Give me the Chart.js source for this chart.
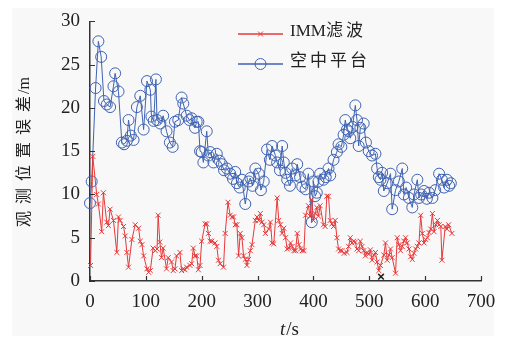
<!DOCTYPE html>
<html>
<head>
<meta charset="utf-8">
<script src="https://cdn.jsdelivr.net/npm/chart.js@4/dist/chart.umd.min.js"></script>
<style>
html,body{margin:0;padding:0;background:#fff;}
#wrap{width:508px;height:342px;}
</style>
</head>
<body>
<div id="wrap"><canvas id="c" width="508" height="342"></canvas></div>
<script>
// ---- data ----
const seriesNames = ['IMM滤波', '空中平台'];
const xTitleItalic = 't';
const xTitleRest = '/s';
const yTitle = '观测位置误差/m';
const xTicks = [0, 100, 200, 300, 400, 500, 600, 700];
const yTicks = [0, 5, 10, 15, 20, 25, 30];

const immT = [1,5,12,15,21,24,30,33,36,42,48,51,54,60,63,66,69,75,81,87,90,93,96,102,105,108,113,117,120,122,125,128,131,137,140,146,149,152,155,161,164,167,170,173,179,182,185,188,191,194,197,200,206,209,212,215,218,224,227,230,233,239,242,247,251,254,257,260,263,266,269,272,275,278,281,284,287,290,296,299,302,305,308,311,314,320,323,326,329,335,338,341,344,347,350,353,356,359,362,365,368,371,374,377,380,383,386,391,394,397,400,403,406,409,412,418,421,424,427,430,433,436,439,442,445,448,451,455,460,463,466,469,472,475,478,481,484,487,490,493,496,499,502,505,508,511,514,517,520,526,529,532,535,538,541,547,550,553,556,559,562,565,568,571,574,577,580,583,586,589,592,595,598,601,604,607,610,613,616,619,622,625,628,630,636,639,642,648];
const immV = [1.8,14.4,10.0,8.9,5.7,10.2,6.8,6.4,8.3,7.0,3.3,7.4,7.0,6.3,5.2,3.3,1.6,4.8,6.5,6.1,4.6,4.2,2.9,1.4,1.0,1.2,3.8,3.5,3.7,7.6,4.5,2.7,3.8,1.4,2.7,2.2,1.2,1.4,2.9,3.3,1.2,1.4,1.3,1.6,1.8,2.0,3.8,2.9,2.9,1.3,1.8,4.6,6.6,6.6,5.5,4.6,4.6,4.4,4.0,2.4,2.0,1.6,5.5,9.1,7.6,7.4,7.4,6.5,6.5,2.9,5.5,5.0,2.9,2.5,1.8,2.5,3.5,4.2,7.0,7.4,7.0,7.8,6.8,6.5,5.5,6.0,6.8,4.4,4.3,9.6,7.0,6.5,5.5,6.1,5.0,3.7,3.8,4.4,4.0,3.5,3.5,5.5,4.2,3.7,3.5,3.5,7.6,8.7,7.5,9.4,7.0,7.8,8.5,7.5,8.7,6.5,6.3,9.8,9.8,7.0,6.6,6.3,7.0,5.0,3.7,3.5,3.5,3.2,3.3,4.0,5.0,4.4,4.6,4.5,3.7,3.5,4.6,4.0,3.5,2.9,3.3,3.1,3.6,2.4,3.0,3.3,2.2,1.2,1.8,3.0,4.4,2.4,3.0,3.7,2.7,0.9,5.0,4.2,3.5,4.0,4.6,5.0,4.4,3.7,2.8,2.5,3.2,3.7,4.0,4.4,7.6,5.5,4.4,4.8,5.0,5.6,6.0,7.8,5.7,6.5,7.0,6.5,6.3,2.4,6.3,6.0,6.5,5.5];

const platT = [0,3,10,15,20,25,30,36,42,45,51,57,61,66,69,73,78,84,90,96,102,108,110,114,118,120,126,131,137,143,148,152,158,164,167,173,178,182,188,191,194,197,200,203,209,212,215,221,227,232,236,240,245,251,256,260,263,268,272,278,284,287,291,296,302,306,311,317,322,326,332,335,340,344,347,350,353,358,362,368,371,376,380,386,391,397,400,403,406,409,412,418,422,427,430,436,442,445,450,454,457,460,463,466,470,475,478,481,484,490,494,499,505,511,514,517,520,523,526,532,538,541,547,553,559,562,566,571,577,580,586,589,593,598,603,607,613,618,625,630,634,639,643,646];
const platV = [9.0,11.5,22.3,27.7,25.9,20.8,20.4,20.1,22.5,24.0,21.9,16.0,15.8,16.2,18.6,16.8,16.3,20.1,21.4,17.5,23.1,22.1,19.0,18.5,23.3,18.6,18.2,19.1,17.3,16.0,15.5,18.4,18.6,21.2,20.5,19.1,18.6,18.8,17.7,18.4,18.4,15.0,14.9,13.7,17.3,14.5,14.9,13.7,14.7,13.9,13.5,12.8,13.0,12.4,11.8,12.6,11.3,10.8,11.7,8.9,11.5,11.9,11.0,13.0,12.4,10.5,11.5,15.2,14.0,15.6,14.5,13.7,12.8,15.6,13.7,12.5,11.7,11.0,13.0,12.2,13.5,12.0,10.9,10.6,12.4,6.8,11.5,9.8,10.2,11.5,12.4,11.7,12.0,13.0,12.2,14.0,14.9,15.8,15.5,16.9,18.6,17.5,17.3,16.5,17.8,20.3,18.6,15.6,17.7,18.2,16.0,15.0,14.5,14.7,13.0,12.0,11.7,12.5,10.4,11.3,12.4,8.3,10.5,11.5,13.0,10.0,10.8,9.6,8.5,10.0,11.7,9.6,10.0,10.4,9.5,10.2,9.6,10.5,12.4,11.7,10.8,11.7,11.0,11.3];

const strayT = [521];
const strayV = [0.5];

const toXY = (ts, vs) => ts.map((t, i) => ({x: t, y: vs[i]}));

const RED = '#e8383a';
const BLUE = '#3f63b4';
const SERIF = "'Liberation Serif', 'Noto Sans CJK SC', serif";

const bgPlugin = {
  id: 'bg',
  beforeDraw(chart) {
    const ctx = chart.ctx;
    ctx.save();
    ctx.fillStyle = '#ffffff';
    ctx.fillRect(0, 0, chart.width, chart.height);
    ctx.fillStyle = '#f8f8f8';
    ctx.fillRect(12, 8, 482, 328);
    ctx.restore();
  }
};

function drawMarker(ctx, style, x, y, r, color) {
  ctx.save();
  ctx.strokeStyle = color;
  ctx.lineWidth = 1;
  ctx.beginPath();
  if (style === 'crossRot') {
    const d = r * 0.7071;
    ctx.moveTo(x - d, y - d); ctx.lineTo(x + d, y + d);
    ctx.moveTo(x + d, y - d); ctx.lineTo(x - d, y + d);
  } else {
    ctx.arc(x, y, r, 0, Math.PI * 2);
  }
  ctx.stroke();
  ctx.restore();
}

// split text into runs: CJK runs get letter spacing (between chars), Latin runs none
function runsOf(text) {
  const runs = [];
  for (const ch of text) {
    const cjk = /[\u3000-\u9fff\uff00-\uffef]/.test(ch);
    if (runs.length && runs[runs.length - 1].cjk === cjk) runs[runs.length - 1].s += ch;
    else runs.push({s: ch, cjk});
  }
  return runs;
}
function runWidth(ctx, r, sp, last) {
  ctx.letterSpacing = r.cjk ? sp + 'px' : '0px';
  let w = ctx.measureText(r.s).width;
  if (r.cjk && !last) w = w - sp + 2; // small gap before following Latin run
  return w;
}
function measureMixed(ctx, text, sp) {
  const runs = runsOf(text);
  let w = 0;
  runs.forEach((r, i) => { w += runWidth(ctx, r, sp, i === runs.length - 1); });
  ctx.letterSpacing = '0px';
  return w;
}
function drawMixed(ctx, text, x, y, sp) {
  const runs = runsOf(text);
  runs.forEach((r, i) => {
    ctx.letterSpacing = r.cjk ? sp + 'px' : '0px';
    ctx.fillText(r.s, x, y);
    x += runWidth(ctx, r, sp, i === runs.length - 1);
  });
  ctx.letterSpacing = '0px';
}

const decoPlugin = {
  id: 'deco',
  afterDraw(chart) {
    const ctx = chart.ctx;
    const xs = chart.scales.x, ys = chart.scales.y;
    const ca = chart.chartArea;
    ctx.save();
    // inward tick marks
    ctx.strokeStyle = '#333';
    ctx.lineWidth = 1.2;
    ctx.beginPath();
    xTicks.forEach(v => {
      const px = Math.round(xs.getPixelForValue(v)) + 0.5;
      ctx.moveTo(px, ca.bottom); ctx.lineTo(px, ca.bottom - 5);
    });
    yTicks.forEach(v => {
      const py = Math.round(ys.getPixelForValue(v)) + 0.5;
      ctx.moveTo(ca.left, py); ctx.lineTo(ca.left + 5, py);
    });
    ctx.stroke();

    // x title: italic t + /s
    ctx.fillStyle = '#222';
    ctx.textAlign = 'left';
    ctx.textBaseline = 'alphabetic';
    ctx.font = "italic 19px 'Liberation Serif', serif";
    const w1 = ctx.measureText(xTitleItalic).width;
    ctx.font = "19px 'Liberation Serif', serif";
    const w2 = ctx.measureText(xTitleRest).width;
    const cx = 289;
    let sx = cx - (w1 + w2) / 2;
    ctx.font = "italic 19px 'Liberation Serif', serif";
    ctx.fillText(xTitleItalic, sx, 335);
    ctx.font = "19px 'Liberation Serif', serif";
    ctx.fillText(xTitleRest, sx + w1 + 1, 335);

    // y title rotated
    ctx.save();
    ctx.translate(25, 152);
    ctx.rotate(-Math.PI / 2);
    ctx.font = "16px " + SERIF;
    ctx.textAlign = 'left';
    ctx.textBaseline = 'middle';
    const yw = measureMixed(ctx, yTitle, 7);
    drawMixed(ctx, yTitle, -yw / 2, 0, 7);
    ctx.restore();

    // legend
    const ds = chart.data.datasets;
    const rows = [{y: 34}, {y: 64}];
    [0, 1].forEach(i => {
      const d = ds[i];
      const y = rows[i].y;
      ctx.strokeStyle = d.borderColor;
      ctx.lineWidth = 1.6;
      ctx.beginPath();
      ctx.moveTo(238, y); ctx.lineTo(283, y);
      ctx.stroke();
      drawMarker(ctx, d.pointStyle, 260.5, y, d.pointRadius, d.borderColor);
      ctx.fillStyle = '#222';
      ctx.font = "17px " + SERIF;
      ctx.textAlign = 'left';
      ctx.textBaseline = 'middle';
      drawMixed(ctx, d.label, 290, y - 2, 3);
    });
    ctx.restore();
  }
};

new Chart(document.getElementById('c'), {
  type: 'line',
  data: {
    datasets: [
      {
        label: seriesNames[0],
        data: toXY(immT, immV),
        borderColor: RED,
        backgroundColor: 'transparent',
        borderWidth: 1,
        pointStyle: 'crossRot',
        pointRadius: 3.5,
        pointBorderWidth: 1,
        pointBorderColor: RED,
        tension: 0,
        clip: false
      },
      {
        label: seriesNames[1],
        data: toXY(platT, platV),
        borderColor: BLUE,
        backgroundColor: 'transparent',
        borderWidth: 1,
        pointStyle: 'circle',
        pointRadius: 5.5,
        pointBorderWidth: 1,
        pointBorderColor: BLUE,
        pointBackgroundColor: 'transparent',
        tension: 0,
        clip: false
      },
      {
        label: '',
        data: toXY(strayT, strayV),
        showLine: false,
        borderColor: '#222',
        pointStyle: 'crossRot',
        pointRadius: 4,
        pointBorderWidth: 1.5,
        pointBorderColor: '#222',
        clip: false
      }
    ]
  },
  options: {
    responsive: false,
    animation: false,
    devicePixelRatio: 1,
    layout: {padding: {left: 0, right: 27, top: 13, bottom: 0}},
    plugins: {legend: {display: false}, tooltip: {enabled: false}},
    scales: {
      x: {
        type: 'linear', min: 0, max: 700,
        afterBuildTicks(s) { s.ticks = xTicks.map(v => ({value: v})); },
        ticks: {font: {family: "'Liberation Serif', serif", size: 19}, color: '#222', padding: 10, maxRotation: 0, autoSkip: false},
        grid: {display: false, drawTicks: false, tickLength: 0},
        border: {display: true, color: '#333', width: 1.5},
        afterFit(s) { s.height = 61; }
      },
      y: {
        type: 'linear', min: 0, max: 30,
        afterBuildTicks(s) { s.ticks = yTicks.map(v => ({value: v})); },
        ticks: {font: {family: "'Liberation Serif', serif", size: 19}, color: '#222', padding: 10, autoSkip: false},
        grid: {display: false, drawTicks: false, tickLength: 0},
        border: {display: true, color: '#333', width: 1.5},
        afterFit(s) { s.width = 90; }
      }
    }
  },
  plugins: [bgPlugin, decoPlugin]
});
</script>
</body>
</html>
